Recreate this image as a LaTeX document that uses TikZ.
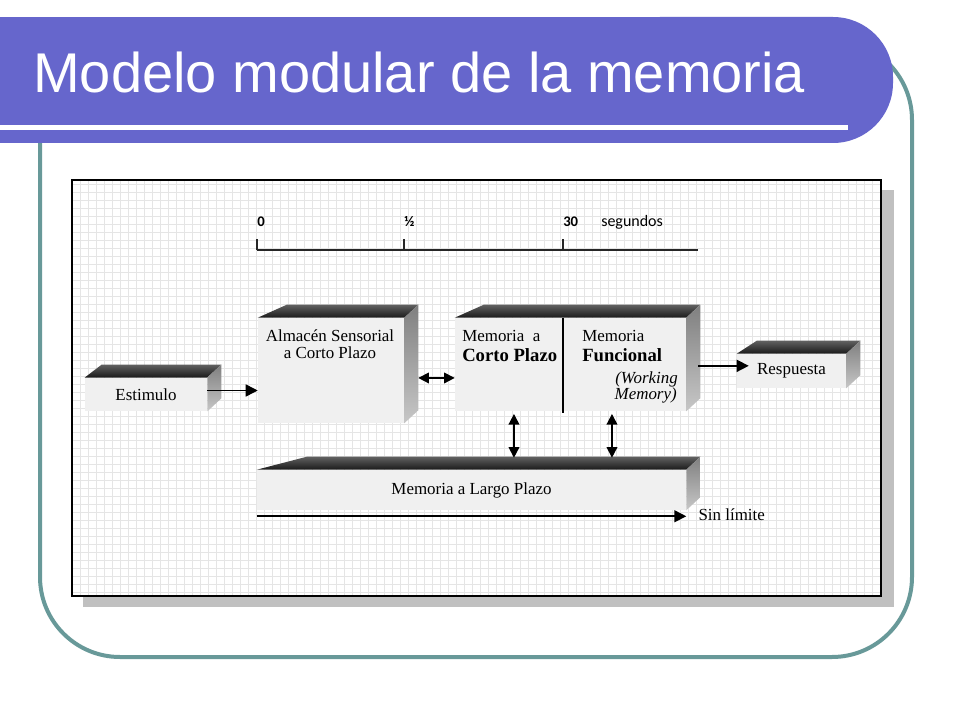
\documentclass[tikz,border=0pt]{standalone}
\usepackage{fontspec}
\setmainfont{Liberation Serif}
\newfontfamily\titlefont{Liberation Sans}
\newfontfamily\calfont{Carlito}
\usetikzlibrary{calc,arrows.meta}
\definecolor{bannerblue}{RGB}{102,102,204}
\definecolor{frameteal}{RGB}{104,153,153}
\definecolor{shadowgray}{RGB}{192,192,192}
\tikzset{
  frontface/.style={fill=black!6, draw=none, inner sep=0pt},
  topface/.style={top color=black!62, bottom color=black!90},
  sideface/.style={top color=black!50, bottom color=black!22},
  txt/.style={font=\fontsize{12.7}{15}\selectfont, inner sep=0pt},
  txtb/.style={font=\fontsize{14}{16}\selectfont\bfseries, inner sep=0pt},
  txti/.style={font=\fontsize{12.7}{15}\selectfont\itshape, inner sep=0pt},
  tl/.style={font=\calfont\fontsize{12}{14}\selectfont, inner sep=0pt},
  tlb/.style={font=\calfont\fontsize{11}{13}\selectfont\bfseries, inner sep=0pt},
  arr/.style={line width=1.2pt, -{Triangle[length=9pt,width=9pt]}},
  darr/.style={line width=1.2pt, {Triangle[length=8pt,width=8pt]}-{Triangle[length=8pt,width=8pt]}},
}
\newcommand\boxfaces[2]{%
  \shade[topface] (#1.north west) -- ++(#2,-13) -- ($(#1.north east)+(14,-13)$) -- (#1.north east) -- cycle;
  \shade[sideface] (#1.north east) -- ++(14,-13) -- ($(#1.south east)+(14,-13)$) -- (#1.south east) -- cycle;
}
\begin{document}
\begin{tikzpicture}[x=0.75pt,y=-0.75pt]
\useasboundingbox (0,0) rectangle (960,720);
\fill[white] (0,0) rectangle (960,720);
% frame
\draw[frameteal, line width=3pt, rounded corners=60pt] (40,40) rectangle (912,657);
% banner
\fill[bannerblue, rounded corners=45pt] (600,17) rectangle (893,143);
\fill[bannerblue] (0,17) rectangle (700,143);
\node[anchor=base west, text=white, font=\titlefont\fontsize{42}{50}\selectfont, inner sep=0pt] (title) at (33,93) {Modelo modular de la memoria};
\draw[white, line width=3.75pt] (0,128) -- (848,128);
% diagram background
\fill[shadowgray] (83,190) rectangle (894,607);
\fill[white] (72,180) rectangle (881,596);
\draw[black!10, line width=0.5pt, step=6pt] (72,180) grid (881,596);
\draw[line width=1.5pt] (72,180) rectangle (881,596);
% timeline
\coordinate (t0) at (257,250);
\coordinate (th) at (404,250);
\coordinate (t30) at (563,250);
\coordinate (tend) at (698,250);
\draw[line width=1.2pt, black!85] (t0) -- (tend);
\foreach \c in {t0,th,t30} \draw[line width=1.2pt, black!85] (\c) -- ++(0,-11);
\node[tlb, anchor=base west] (l0) at (257,227) {0};
\node[tlb, anchor=base west] (lh) at (404,227) {½};
\node[tlb, anchor=base west] (l30) at (563,227) {30};
\node[tl, anchor=base west] (lseg) at (601,227) {segundos};
% boxes
\node[frontface, minimum width=91.5pt, minimum height=25pt, txt] (est) at (146,394.5) {Estimulo};
\boxfaces{est}{17}
\node[frontface, minimum width=109.5pt, minimum height=78.75pt] (alm) at (331,370.5) {};
\boxfaces{alm}{29}
\node[frontface, minimum width=173.25pt, minimum height=69.75pt] (mem) at (570.5,364.5) {};
\boxfaces{mem}{29}
\node[frontface, minimum width=81.75pt, minimum height=25.5pt, txt] (resp) at (791.5,371) {Respuesta};
\boxfaces{resp}{20}
\node[frontface, minimum width=321.75pt, minimum height=30pt, txt] (lp) at (471.5,490) {Memoria a Largo Plazo};
\boxfaces{lp}{50}
% texts
\node[txt, anchor=base] (alm1) at (330,341) {Almacén Sensorial};
\node[txt, anchor=base] (alm2) at (330,358) {a Corto Plazo};
\node[txt, anchor=base west] (cp1) at (462,341) {Memoria\ \ a};
\node[txtb, anchor=base west] (cp2) at (462,361) {Corto Plazo};
\node[txt, anchor=base west] (mf1) at (582,341) {Memoria};
\node[txtb, anchor=base west] (mf2) at (582,361) {Funcional};
\node[txti, anchor=base east] (mf3) at (678,383) {(Working};
\node[txti, anchor=base east] (mf4) at (677,399) {Memory)};
% divider
\draw[line width=1.5pt] ([xshift=-5.6pt]mem.north) -- ([xshift=-5.6pt,yshift=-1.5pt]mem.south);
% arrows
\draw[arr] ([yshift=3pt]est.east) -- ([yshift=3pt]est.east -| alm.west);
\draw[darr] ([xshift=10.5pt,yshift=-5.6pt]alm.east) -- ([yshift=-5.6pt]alm.east -| mem.west);
\draw[arr] ([xshift=9pt,yshift=-1pt]mem.east) -- ([xshift=9pt,yshift=-1pt]mem.east -| resp.west);
\coordinate (lptop) at ($(lp.north)+(0,-12)$);
\draw[darr] ([xshift=-42.4pt,yshift=-2pt]mem.south) -- ([xshift=-42.4pt]mem.south |- lptop);
\draw[darr] ([xshift=31.1pt,yshift=-2pt]mem.south) -- ([xshift=31.1pt]mem.south |- lptop);
\draw[arr] ([yshift=-4.5pt]lp.south west) -- ([yshift=-4.5pt]lp.south east);
\node[txt, anchor=west] (sin) at ([xshift=9pt,yshift=-3pt]lp.south east) {Sin límite};
\end{tikzpicture}
\end{document}
